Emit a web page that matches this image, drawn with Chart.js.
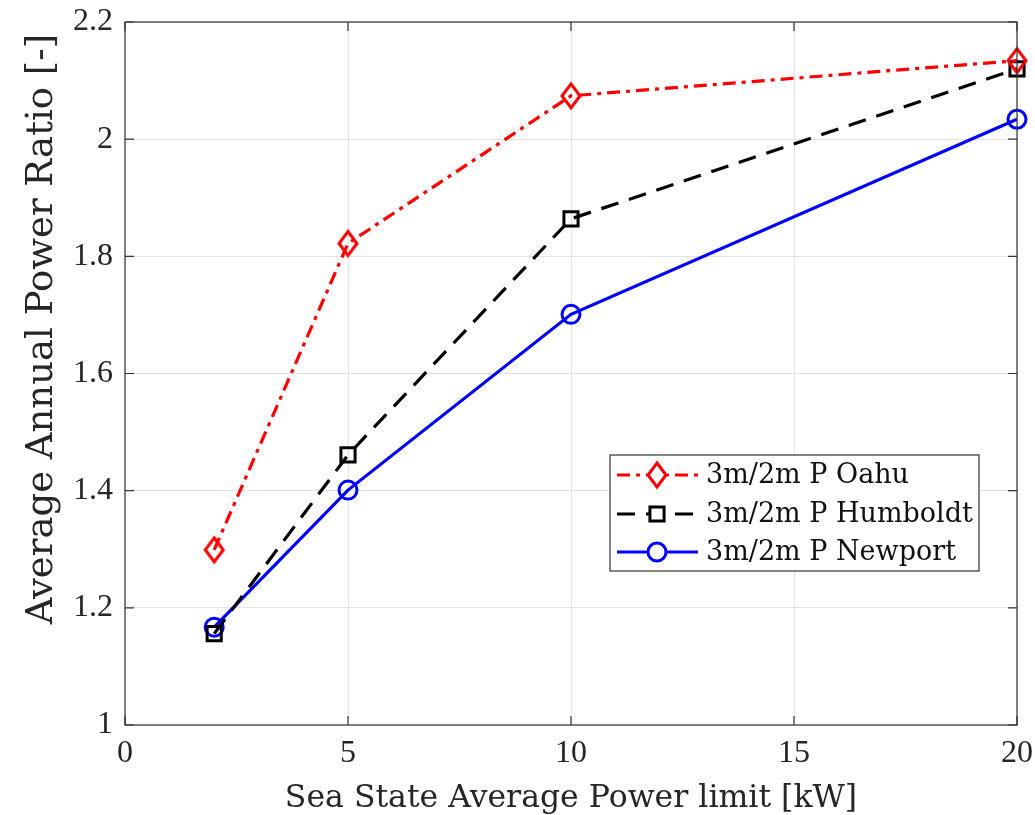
<!DOCTYPE html>
<html>
<head>
<meta charset="utf-8">
<script src="https://cdn.jsdelivr.net/npm/chart.js@4/dist/chart.umd.min.js"></script>
<style>
html,body{margin:0;padding:0;background:#fff;}
#wrap{width:1035px;height:815px;position:relative;}
</style>
</head>
<body>
<div id="wrap"><canvas id="c" width="1035" height="815"></canvas></div>
<script>
const powerLimits = [2, 5, 10, 20];
const oahu = [1.299, 1.822, 2.074, 2.134];
const humboldt = [1.156, 1.461, 1.864, 2.120];
const newport = [1.167, 1.401, 1.701, 2.034];
const seriesNames = ['3m/2m P Oahu', '3m/2m P Humboldt', '3m/2m P Newport'];
const xTicks = [0, 5, 10, 15, 20];
const yTicks = [1, 1.2, 1.4, 1.6, 1.8, 2, 2.2];

const TICKFONT = '"Liberation Serif", serif';
const TITLEFONT = '"DejaVu Serif", serif';
const toPts = arr => arr.map((v, i) => ({x: powerLimits[i], y: v}));

function makeDiamond(color) {
  const c = document.createElement('canvas');
  c.width = 24; c.height = 30;
  const g = c.getContext('2d');
  g.strokeStyle = color; g.lineWidth = 3; g.lineJoin = 'miter';
  g.beginPath();
  g.moveTo(12, 3); g.lineTo(21, 15); g.lineTo(12, 27); g.lineTo(3, 15); g.closePath();
  g.stroke();
  return c;
}
const diamondRed = makeDiamond('#ff0000');

const boxTicks = {
  id: 'boxTicks',
  afterDatasetsDraw(chart) {
    const {ctx, chartArea: a, scales} = chart;
    ctx.save();
    ctx.strokeStyle = '#333';
    ctx.lineWidth = 1.2;
    ctx.strokeRect(a.left, a.top, a.right - a.left, a.bottom - a.top);
    const L = 9;
    ctx.beginPath();
    xTicks.forEach(t => {
      const x = scales.x.getPixelForValue(t);
      ctx.moveTo(x, a.bottom); ctx.lineTo(x, a.bottom - L);
      ctx.moveTo(x, a.top); ctx.lineTo(x, a.top + L);
    });
    yTicks.forEach(t => {
      const y = scales.y.getPixelForValue(t);
      ctx.moveTo(a.left, y); ctx.lineTo(a.left + L, y);
      ctx.moveTo(a.right, y); ctx.lineTo(a.right - L, y);
    });
    ctx.stroke();
    ctx.restore();
  },
  afterDraw(chart) {
    const {ctx} = chart;
    const bx = 610, by = 455, bw = 369, bh = 116;
    ctx.save();
    ctx.fillStyle = '#fff';
    ctx.fillRect(bx, by, bw, bh);
    ctx.strokeStyle = '#333';
    ctx.lineWidth = 1.2;
    ctx.strokeRect(bx, by, bw, bh);
    const rows = [475, 514, 552];
    chart.data.datasets.forEach((ds, i) => {
      const y = rows[i];
      ctx.strokeStyle = ds.borderColor;
      ctx.lineWidth = 3;
      ctx.setLineDash(ds.borderDash || []);
      ctx.beginPath();
      ctx.moveTo(617, y); ctx.lineTo(698, y);
      ctx.stroke();
      ctx.setLineDash([]);
      ctx.fillStyle = '#fff';
      ctx.lineWidth = 3;
      const r = ds.pointRadius;
      if (ds.pointStyle === 'circle') {
        ctx.beginPath();
        ctx.arc(657, y, r, 0, Math.PI * 2);
        ctx.fill(); ctx.stroke();
      } else if (ds.pointStyle === 'rect') {
        const h = r * Math.SQRT1_2;
        ctx.beginPath();
        ctx.rect(657 - h, y - h, 2 * h, 2 * h);
        ctx.fill(); ctx.stroke();
      } else {
        ctx.fillRect(657 - 10, y - 13, 20, 26);
        ctx.drawImage(ds.pointStyle, 657 - 12, y - 15);
      }
      ctx.fillStyle = '#111';
      ctx.font = '27px ' + TITLEFONT;
      ctx.textBaseline = 'middle';
      ctx.textAlign = 'left';
      ctx.fillText(ds.label, 706, y + 1);
    });
    ctx.restore();
  }
};

new Chart(document.getElementById('c'), {
  type: 'line',
  data: {
    datasets: [
      {label: seriesNames[0], data: toPts(oahu), borderColor: '#ff0000', borderWidth: 3.2,
       borderDash: [13, 6, 4, 6], pointStyle: diamondRed, pointRadius: 12,
       clip: false},
      {label: seriesNames[1], data: toPts(humboldt), borderColor: '#000000', borderWidth: 3.2,
       borderDash: [18, 11], pointStyle: 'rect', pointRadius: 10, pointBorderWidth: 3,
       pointBackgroundColor: 'rgba(0,0,0,0)', pointBorderColor: '#000000', clip: false},
      {label: seriesNames[2], data: toPts(newport), borderColor: '#0000ff', borderWidth: 3.2,
       pointStyle: 'circle', pointRadius: 9, pointBorderWidth: 3,
       pointBackgroundColor: 'rgba(0,0,0,0)', pointBorderColor: '#0000ff', clip: false}
    ]
  },
  options: {
    responsive: false,
    animation: false,
    devicePixelRatio: 1,
    layout: {padding: {left: 0, top: 22, right: 18, bottom: 0}},
    plugins: {legend: {display: false}, tooltip: {enabled: false}},
    scales: {
      x: {
        type: 'linear', min: 0, max: 20,
        afterBuildTicks: s => { s.ticks = xTicks.map(v => ({value: v})); },
        afterFit: s => { s.height = 90; s.paddingLeft = 0; s.paddingRight = 0; },
        grid: {color: '#e3e3e3', lineWidth: 1, drawTicks: false},
        border: {display: false},
        ticks: {padding: 9, color: '#262626', font: {family: TICKFONT, size: 32}, maxRotation: 0,
                callback: v => String(v)},
        title: {display: true, text: 'Sea State Average Power limit [kW]', color: '#262626',
                font: {family: TITLEFONT, size: 31.5, lineHeight: 1}, padding: {top: 0, bottom: 0}}
      },
      y: {
        type: 'linear', min: 1, max: 2.2,
        afterBuildTicks: s => { s.ticks = yTicks.map(v => ({value: v})); },
        afterFit: s => { s.width = 125; s.paddingTop = 0; s.paddingBottom = 0; },
        grid: {color: '#e3e3e3', lineWidth: 1, drawTicks: false},
        border: {display: false},
        ticks: {padding: 12, color: '#262626', font: {family: TICKFONT, size: 32},
                callback: v => String(parseFloat(Number(v).toFixed(1)))},
        title: {display: true, align: 'end', text: 'Average Annual Power Ratio [-] ', color: '#262626',
                font: {family: TITLEFONT, size: 37, lineHeight: 1}, padding: {top: 24, bottom: 0}}
      }
    }
  },
  plugins: [boxTicks]
});
</script>
</body>
</html>
